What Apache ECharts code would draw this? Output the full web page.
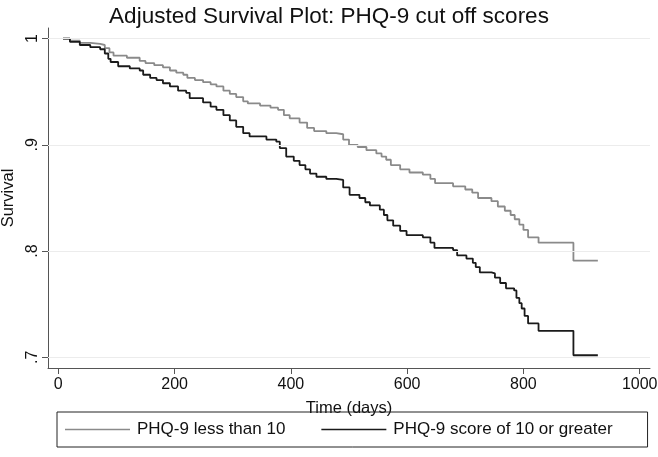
<!DOCTYPE html>
<html><head><meta charset="utf-8">
<script src="https://cdn.jsdelivr.net/npm/echarts@6/dist/echarts.min.js"></script>
<style>html,body{margin:0;padding:0;background:#fff}#c{width:658px;height:457px}</style>
</head><body><div id="c"></div>
<script>
const titleText = 'Adjusted Survival Plot: PHQ-9 cut off scores';
const seriesNames = ['PHQ-9 less than 10', 'PHQ-9 score of 10 or greater'];
const xTicks = [0, 200, 400, 600, 800, 1000];
const yTicks = [0.7, 0.8, 0.9, 1];
const yTickLabels = ['.7', '.8', '.9', '1'];

// PHQ-9 < 10 : [days, survival]
const lowDays = [8,20,37,55,72,80,88,95,118,140,150,165,180,192,203,215,222,235,249,262,272,284,295,306,318,326,347,365,378,388,398,415,428,440,461,478,490,500,515,530,547,556,564,572,588,604,627,640,648,679,700,712,722,745,756,768,778,785,793,800,808,826,886,928];
const lowSurv = [1.000,0.998,0.996,0.995,0.994,0.991,0.987,0.984,0.982,0.979,0.977,0.975,0.973,0.970,0.968,0.966,0.963,0.961,0.959,0.957,0.955,0.951,0.948,0.945,0.941,0.939,0.937,0.935,0.933,0.928,0.925,0.921,0.916,0.913,0.911,0.910,0.905,0.900,0.898,0.895,0.892,0.889,0.886,0.881,0.877,0.874,0.872,0.868,0.864,0.861,0.858,0.855,0.850,0.847,0.842,0.838,0.834,0.830,0.825,0.820,0.813,0.808,0.791,0.791];

// PHQ-9 >= 10 : [days, survival]
const highDays = [8,20,37,55,72,80,86,90,103,123,140,146,158,169,180,192,206,220,226,249,262,272,284,295,306,318,329,358,375,381,392,405,415,425,433,444,461,478,490,501,518,528,536,553,560,566,576,588,599,627,640,647,679,686,702,713,718,725,745,751,760,770,784,788,793,797,802,808,826,886,928];
const highSurv = [1.000,0.997,0.994,0.992,0.990,0.986,0.981,0.978,0.974,0.972,0.970,0.966,0.963,0.961,0.958,0.955,0.951,0.949,0.944,0.940,0.936,0.933,0.928,0.923,0.917,0.911,0.908,0.905,0.903,0.897,0.889,0.885,0.881,0.877,0.873,0.870,0.868,0.867,0.860,0.853,0.850,0.846,0.843,0.839,0.834,0.829,0.824,0.819,0.815,0.813,0.808,0.803,0.801,0.796,0.793,0.789,0.785,0.780,0.779,0.775,0.770,0.765,0.763,0.756,0.751,0.746,0.739,0.732,0.725,0.702,0.702];

const zip = (a, b) => a.map((v, i) => [v, b[i]]);
const FONT = 'Liberation Sans, Arial, sans-serif';
const chart = echarts.init(document.getElementById('c'), null, {renderer: 'canvas'});
chart.setOption({
  animation: false,
  backgroundColor: '#fff',
  title: {text: titleText, left: 'center', top: 0,
    textStyle: {fontFamily: FONT, fontWeight: 'normal', fontSize: 22.5, color: '#111'}},
  grid: {left: 48, top: 28, width: 602, height: 340, containLabel: false, outerBoundsMode: 'none'},
  legend: {
    data: seriesNames.map(n => ({name: n, icon: 'rect'})),
    left: 57, top: 412, itemWidth: 65, itemHeight: 1.6, itemGap: 36,
    padding: [9, 35, 9, 8], borderColor: '#222', borderWidth: 1,
    textStyle: {fontFamily: FONT, fontSize: 17, color: '#111', padding: [0, 0, 0, 2]}
  },
  xAxis: {
    type: 'value', min: -17.7, max: 1017.7,
    name: 'Time (days)', nameLocation: 'middle', nameGap: 32,
    nameTextStyle: {fontFamily: FONT, fontSize: 16.5, color: '#111'},
    axisLine: {show: true, onZero: false, lineStyle: {color: '#555', width: 1}},
    axisTick: {show: true, customValues: xTicks, length: 6, lineStyle: {color: '#555'}},
    axisLabel: {customValues: xTicks, fontFamily: FONT, fontSize: 16, color: '#111', margin: 9,
      formatter: v => String(v)},
    splitLine: {show: false}
  },
  yAxis: {
    type: 'value', min: 0.69, max: 1.01,
    name: 'Survival', nameLocation: 'middle', nameGap: 30, nameRotate: 90,
    nameTextStyle: {fontFamily: FONT, fontSize: 16.5, color: '#111'},
    axisLine: {show: true, onZero: false, lineStyle: {color: '#555', width: 1}},
    axisTick: {show: true, customValues: yTicks, length: 6, lineStyle: {color: '#555'}},
    axisLabel: {customValues: yTicks, rotate: 90, fontFamily: FONT, fontSize: 16, color: '#111', margin: 7,
      formatter: v => yTickLabels[yTicks.findIndex(t => Math.abs(t - v) < 1e-6)] ?? ''},
    splitLine: {show: false}
  },
  series: [
    {name: seriesNames[0], type: 'line', step: 'end', symbol: 'none', data: zip(lowDays, lowSurv),
      lineStyle: {color: '#8a8a8a', width: 1.8}, itemStyle: {color: '#8a8a8a'}, z: 3,
      markLine: {silent: true, symbol: 'none', label: {show: false},
        lineStyle: {color: '#ececec', width: 1, type: 'solid'},
        data: yTicks.map(t => ({yAxis: t}))}},
    {name: seriesNames[1], type: 'line', step: 'end', symbol: 'none', data: zip(highDays, highSurv),
      lineStyle: {color: '#1a1a1a', width: 1.8}, itemStyle: {color: '#1a1a1a'}, z: 4}
  ]
});
</script></body></html>
